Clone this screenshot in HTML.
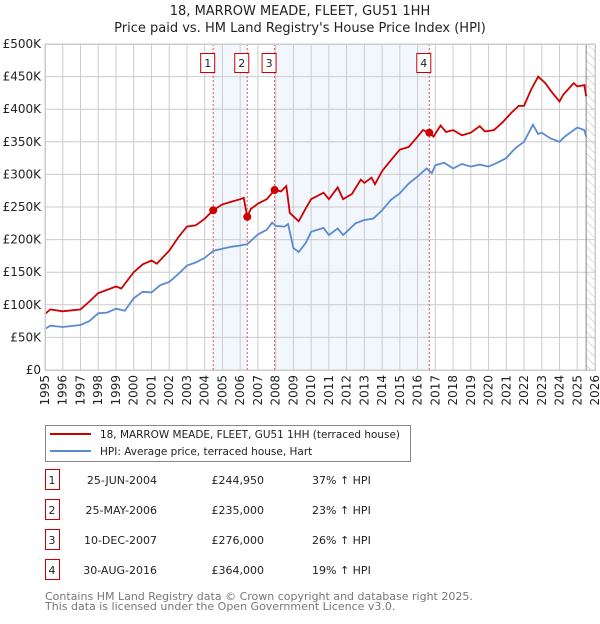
<!DOCTYPE html>
<html><head><meta charset="utf-8"><style>
body{margin:0;background:#fff;font-family:"DejaVu Sans","Liberation Sans",sans-serif;}
svg text{font-family:"DejaVu Sans","Liberation Sans",sans-serif;}
</style></head><body>
<svg id="c" width="600" height="620" xmlns="http://www.w3.org/2000/svg">
<defs><pattern id="hatch" width="6" height="6" patternUnits="userSpaceOnUse" patternTransform="rotate(-45)"><line x1="0" y1="0" x2="0" y2="6" stroke="#bbb" stroke-width="1"/></pattern></defs>
<text x="300" y="15" text-anchor="middle" font-size="13" fill="#222">18, MARROW MEADE, FLEET, GU51 1HH</text>
<text x="300" y="32" text-anchor="middle" font-size="13" fill="#222">Price paid vs. HM Land Registry's House Price Index (HPI)</text>
<g id="plot"></g>
<g>
<rect x="45.5" y="425.5" width="365" height="36" fill="#fff" stroke="#888"/>
<line x1="50" y1="434" x2="91" y2="434" stroke="#cc0000" stroke-width="2"/>
<text x="100" y="438" font-size="10.5" textLength="300" lengthAdjust="spacingAndGlyphs" fill="#222">18, MARROW MEADE, FLEET, GU51 1HH (terraced house)</text>
<line x1="50" y1="451" x2="91" y2="451" stroke="#5b8bd0" stroke-width="2"/>
<text x="100" y="455" font-size="10.5" fill="#222">HPI: Average price, terraced house, Hart</text>
</g>
<g id="table" font-size="11" fill="#222"></g>
<text x="45" y="600" font-size="11" fill="#777">Contains HM Land Registry data © Crown copyright and database right 2025.</text>
<text x="45" y="610" font-size="11" fill="#777">This data is licensed under the Open Government Licence v3.0.</text>
</svg>
<script>
const yTicks=[0,50,100,150,200,250,300,350,400,450,500];
const yTickLabels=["£0","£50K","£100K","£150K","£200K","£250K","£300K","£350K","£400K","£450K","£500K"];
const years=[1995,1996,1997,1998,1999,2000,2001,2002,2003,2004,2005,2006,2007,2008,2009,2010,2011,2012,2013,2014,2015,2016,2017,2018,2019,2020,2021,2022,2023,2024,2025,2026];
const hpiT=[1995,1995.3,1996,1997,1997.5,1998,1998.5,1999,1999.5,2000,2000.5,2001,2001.5,2002,2002.5,2003,2003.5,2004,2004.5,2005,2005.5,2006,2006.4,2007,2007.5,2007.8,2008,2008.5,2008.7,2009,2009.3,2009.7,2010,2010.7,2011,2011.5,2011.8,2012,2012.5,2013,2013.5,2014,2014.5,2015,2015.5,2016,2016.5,2016.8,2017,2017.5,2018,2018.5,2019,2019.5,2020,2020.5,2021,2021.5,2022,2022.5,2022.8,2023,2023.5,2024,2024.3,2025,2025.4,2025.5];
const hpiV=[63,68,66,69,75,87,88,94,91,110,120,119,130,135,147,160,165,172,183,186,189,191,193,208,215,226,221,220,224,187,181,195,212,218,207,217,207,212,225,230,232,245,261,271,286,297,309,302,314,318,309,316,312,315,312,318,325,340,350,376,362,364,355,350,358,372,368,358];
const priceT=[1995,1995.3,1996,1997,1997.5,1998,1999,1999.3,2000,2000.5,2001,2001.3,2002,2002.5,2003,2003.5,2004,2004.48,2005,2005.5,2006,2006.2,2006.4,2006.6,2007,2007.5,2007.94,2008.3,2008.6,2008.8,2009.3,2009.7,2010,2010.7,2011,2011.5,2011.8,2012.3,2012.8,2013,2013.4,2013.6,2014,2014.5,2015,2015.5,2016,2016.3,2016.66,2016.9,2017.3,2017.6,2018,2018.5,2019,2019.5,2019.8,2020.3,2020.8,2021.3,2021.7,2022,2022.4,2022.8,2023.2,2023.6,2024,2024.2,2024.8,2025,2025.4,2025.5];
const priceV=[86,93,90,93,105,118,128,125,150,162,168,163,183,203,220,222,232,245,254,258,262,264,235,247,255,262,276,274,282,241,228,248,262,272,262,280,262,270,292,287,295,285,305,322,338,342,358,368,364,358,375,365,368,360,364,374,366,368,380,395,405,405,430,450,440,425,412,422,440,435,437,420];
const saleT=[2004.48,2006.4,2007.94,2016.66];
const saleV=[244.95,235,276,364];
const saleLabels=["1","2","3","4"];
const saleDates=["25-JUN-2004","25-MAY-2006","10-DEC-2007","30-AUG-2016"];
const salePrices=["£244,950","£235,000","£276,000","£364,000"];
const saleHpi=["37% ↑ HPI","23% ↑ HPI","26% ↑ HPI","19% ↑ HPI"];
const X0=45,X1=595,Y0=370,Y1=44,T0=1995,T1=2026,V1=500;
const sx=t=>X0+(t-T0)/(T1-T0)*(X1-X0);
const sy=v=>Y0-v/V1*(Y0-Y1);
const NS="http://www.w3.org/2000/svg";
function mk(tag,attrs,parent){const e=document.createElementNS(NS,tag);for(const k in attrs)e.setAttribute(k,attrs[k]);parent.appendChild(e);return e;}
const g=document.getElementById('plot');
for(const [a,b] of [[0,1],[2,3]]){
 const r=mk('rect',{x:sx(saleT[a]),y:Y1,width:sx(saleT[b])-sx(saleT[a]),height:Y0-Y1,fill:'#eef3fc',opacity:0.75},g);
 
 
}
const hr=mk('rect',{x:sx(2025.5),y:Y1,width:X1-sx(2025.5),height:Y0-Y1,fill:'url(#hatch)'},g);


yTicks.forEach((v,i)=>{
 const l=mk('line',{x1:X0,x2:X1,y1:sy(v),y2:sy(v),stroke:'#ccc'},g);
 
 
 const t=mk('text',{x:X0-4,y:sy(v)+4,'text-anchor':'end','font-size':'12',fill:'#222'},g);
 t.textContent=yTickLabels[i];
 
 
});
years.forEach(y=>{
 const l=mk('line',{x1:sx(y),x2:sx(y),y1:Y1,y2:Y0,stroke:'#ccc'},g);
 
 
 const t=mk('text',{x:0,y:0,'text-anchor':'end','font-size':'12',fill:'#222',transform:`translate(${sx(y)+4},${Y0+5}) rotate(-90)`},g);
 t.textContent=y;
 
 
});
const cl=mk('line',{x1:sx(2025.5),x2:sx(2025.5),y1:Y1,y2:Y0,stroke:'#888'},g);


saleT.forEach((t,i)=>{
 const l=mk('line',{x1:sx(t),x2:sx(t),y1:Y1,y2:Y0,stroke:'#e55','stroke-dasharray':'2,2'},g);
 
 
 const b=mk('rect',{x:sx(t)-12.5,y:53.5,width:14,height:19,fill:'#fff',stroke:'#cc0000'},g);
 
 
 const tx=mk('text',{x:sx(t)-5.5,y:67,'text-anchor':'middle','font-size':'11',fill:'#222'},g);
 tx.textContent=saleLabels[i];
 
 
});
function path(T,V){return T.map((t,i)=>(i?'L':'M')+sx(t).toFixed(1)+','+sy(V[i]).toFixed(1)).join('');}
const hp=mk('path',{d:path(hpiT,hpiV),fill:'none',stroke:'#5b8bd0','stroke-width':1.8},g);


const pp=mk('path',{d:path(priceT,priceV),fill:'none',stroke:'#cc0000','stroke-width':1.8},g);


saleT.forEach((t,i)=>{
 const c=mk('circle',{cx:sx(t),cy:sy(saleV[i]),r:4,fill:'#cc0000'},g);
 
 
});
mk('rect',{x:X0+0.5,y:Y1+0.5,width:X1-X0,height:Y0-Y1,fill:'none',stroke:'#ccc'},g);
const tb=document.getElementById('table');
saleT.forEach((t,i)=>{
 const y=483+i*30;
 const b=mk('rect',{x:45.5,y:y-13.5,width:14,height:20,fill:'#fff',stroke:'#cc0000'},tb);
 
 
 const cells=[[52,'middle',saleLabels[i]],[157,'end',saleDates[i]],[264,'end',salePrices[i]],[312,'start',saleHpi[i]]];
 cells.forEach(([x,a,s])=>{
  const e=mk('text',{x:x,y:y+1,'text-anchor':a,'font-size':'11',fill:'#222'},tb);
  e.textContent=s;
  
  
 });
});
</script>
</body></html>
